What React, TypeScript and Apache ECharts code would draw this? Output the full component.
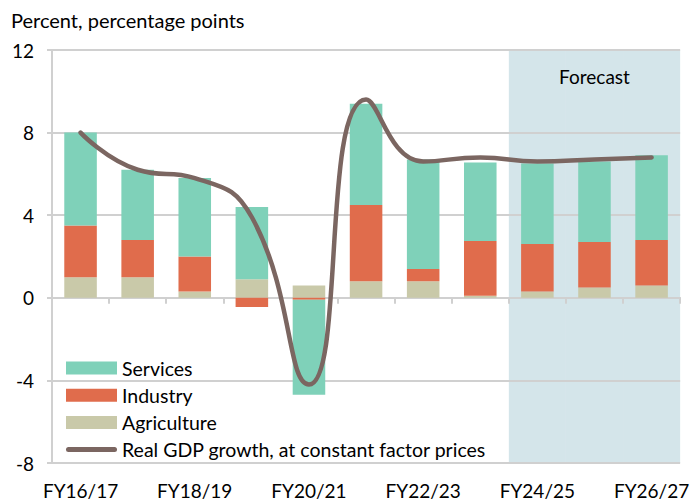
import React, { useEffect, useRef } from 'react';
import * as echarts from 'echarts';

const categories = ['FY16/17', 'FY17/18', 'FY18/19', 'FY19/20', 'FY20/21', 'FY21/22', 'FY22/23', 'FY23/24', 'FY24/25', 'FY25/26', 'FY26/27'];
const agriculture = [1.0, 1.0, 0.3, 0.9, 0.6, 0.8, 0.8, 0.1, 0.3, 0.5, 0.6];
const industry = [2.5, 1.8, 1.7, -0.45, -0.1, 3.7, 0.6, 2.65, 2.3, 2.2, 2.2];
const services = [4.5, 3.4, 3.8, 3.5, -4.6, 4.9, 5.3, 3.8, 3.9, 3.9, 4.1];
const gdpGrowth = [8.0, 6.2, 5.8, 3.9, -4.2, 9.6, 6.6, 6.8, 6.6, 6.7, 6.8];
const forecastFrom = 'FY24/25';
const yMin = -8;
const yMax = 12;
const yInterval = 4;

const FONT = 'Lato';
const GRID = '#d0d0d0';
const LINE_ICON = 'path://M0,0 M51,13 M2.5,4 L48.5,4 A2.5,2.5 0 0 1 48.5,9 L2.5,9 A2.5,2.5 0 0 1 2.5,4 Z';

export default function App() {
  const ref = useRef<HTMLDivElement>(null);
  useEffect(() => {
    if (!ref.current) return;
    const chart = echarts.init(ref.current, null, { renderer: 'svg' });
    const fIdx = categories.indexOf(forecastFrom);
    const mid = Math.floor((fIdx + categories.length - 1) / 2);
    const bgTop = categories.map((c, i) =>
      i < fIdx
        ? '-'
        : {
            value: yMax,
            label: {
              show: i === mid,
              formatter: 'Forecast',
              position: 'insideTop',
              distance: 17,
              fontFamily: FONT,
              fontSize: 19,
              color: '#000',
            },
          }
    );
    const bgBottom = categories.map((c, i) => (i < fIdx ? '-' : yMin));
    const txt = { fontFamily: FONT, fontSize: 19, color: '#000' };
    chart.setOption({
      animation: false,
      title: {
        text: 'Percent, percentage points',
        left: 11,
        top: 10,
        padding: 0,
        textStyle: { ...txt, fontSize: 20, fontWeight: 'normal' },
      },
      grid: { left: 52, right: 7, top: 50, bottom: 37 },
      legend: {
        orient: 'vertical',
        left: 66,
        top: 358,
        padding: 0,
        itemWidth: 51,
        itemHeight: 13,
        itemGap: 7.2,
        symbolKeepAspect: false,
        textStyle: { ...txt, fontSize: 19.5 },
        data: [
          { name: 'Services', icon: 'rect' },
          { name: 'Industry', icon: 'rect' },
          { name: 'Agriculture', icon: 'rect' },
          { name: 'Real GDP growth, at constant factor prices', icon: LINE_ICON },
        ],
      },
      xAxis: [
        {
          type: 'category',
          data: categories,
          position: 'bottom',
          axisLine: { show: false, onZero: false },
          axisTick: { show: false },
          axisLabel: { interval: 1, margin: 18, lineHeight: 18, ...txt },
        },
        {
          type: 'category',
          data: categories,
          position: 'bottom',
          axisLine: { show: true, onZero: true, lineStyle: { color: GRID, width: 2 } },
          axisTick: { show: true, interval: 0, length: 6, lineStyle: { color: GRID, width: 2 } },
          axisLabel: { show: false },
        },
        {
          type: 'category',
          data: categories,
          show: false,
        },
      ],
      yAxis: {
        type: 'value',
        min: yMin,
        max: yMax,
        interval: yInterval,
        axisLine: { show: true, lineStyle: { color: GRID, width: 2 } },
        axisTick: { show: true, length: 5, lineStyle: { color: GRID, width: 2 } },
        splitLine: { show: true, lineStyle: { color: GRID, width: 2 } },
        axisLabel: { margin: 18, ...txt },
      },
      series: [
        {
          name: 'forecastTop',
          type: 'bar',
          xAxisIndex: 2,
          stack: 'bg',
          barWidth: '100%',
          silent: true,
          z: -1,
          itemStyle: { color: '#d4e5ea' },
          data: bgTop,
        },
        {
          name: 'forecastBottom',
          type: 'bar',
          xAxisIndex: 2,
          stack: 'bg',
          barWidth: '100%',
          silent: true,
          z: -1,
          itemStyle: { color: '#d4e5ea' },
          data: bgBottom,
        },
        {
          name: 'Agriculture',
          type: 'bar',
          stack: 'total',
          barWidth: '57%',
          itemStyle: { color: '#c9c9a9' },
          data: agriculture,
        },
        {
          name: 'Industry',
          type: 'bar',
          stack: 'total',
          barWidth: '57%',
          itemStyle: { color: '#e06c4c' },
          data: industry,
        },
        {
          name: 'Services',
          type: 'bar',
          stack: 'total',
          barWidth: '57%',
          itemStyle: { color: '#7fd1b9' },
          data: services,
        },
        {
          name: 'Real GDP growth, at constant factor prices',
          type: 'line',
          smooth: 0.5,
          symbol: 'none',
          z: 5,
          lineStyle: { color: '#7b6661', width: 4.5, cap: 'round' },
          itemStyle: { color: '#7b6661' },
          data: gdpGrowth,
        },
      ],
    });
    return () => chart.dispose();
  }, []);
  return <div ref={ref} style={{ width: 692, height: 500, position: 'absolute', left: 0, top: 0 }} />;
}
